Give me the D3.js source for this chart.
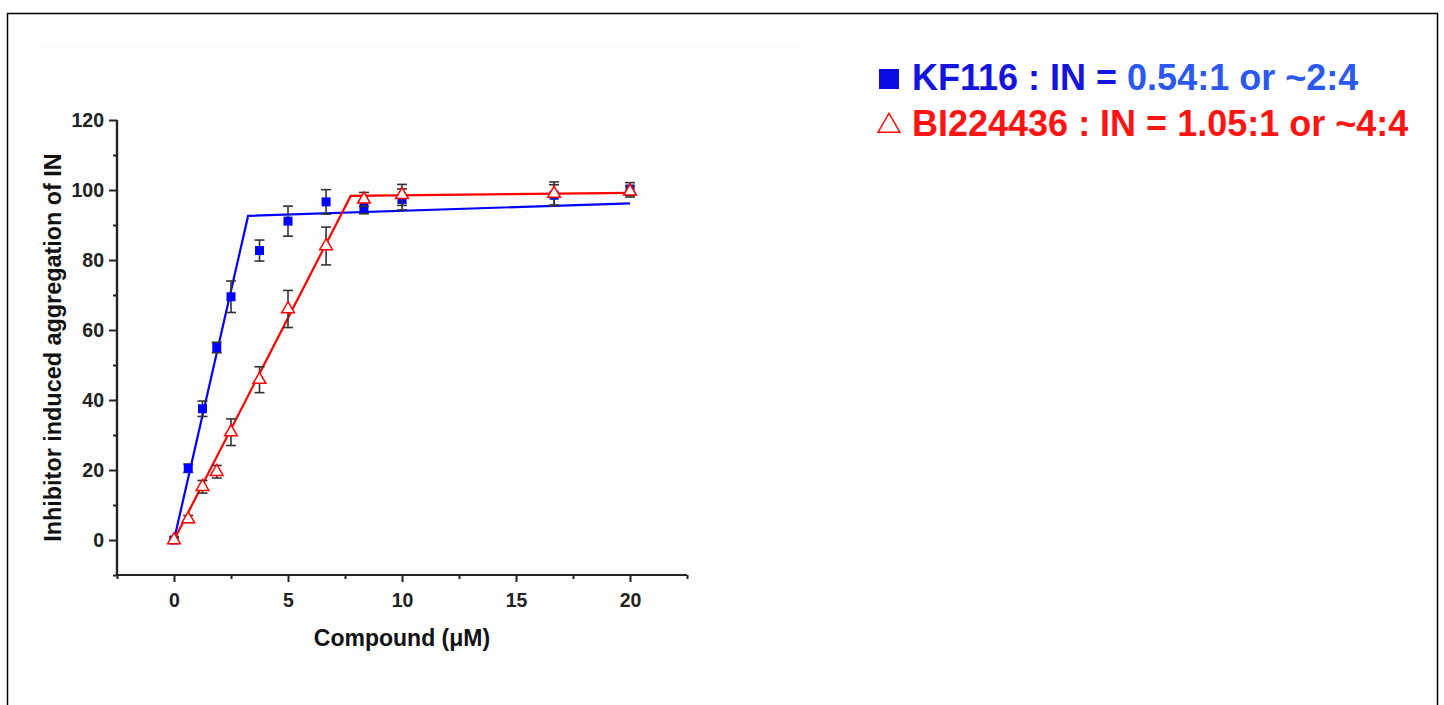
<!DOCTYPE html>
<html>
<head>
<meta charset="utf-8">
<script src="https://cdn.jsdelivr.net/npm/d3@7"></script>
<style>
  body { margin: 0; background: #fff; }
  svg text { font-family: Arial, "Liberation Sans", sans-serif; font-weight: bold; }
</style>
</head>
<body>
<div id="chart"></div>
<script>
// concentrations (uM)
const conc = [0, 0.625, 1.25, 1.875, 2.5, 3.75, 5, 6.67, 8.33, 10, 16.67, 20]

// KF116 (blue squares)
const kfValues = [0, 20.5, 37.5, 55, 69.5, 82.7, 91.1, 96.6, 95, 97.3, 98.5, 100.3]
const kfErrors = [0.8, 1.2, 2.2, 1.5, 4.5, 3, 4.3, 3.5, 1.8, 3, 3, 1.8]
// BI224436 (red open triangles)
const biValues = [0, 6, 15.2, 19.5, 30.8, 45.8, 66, 84, 97.3, 98.6, 99, 99.6]
const biErrors = [0.8, 1, 1.8, 1.8, 3.8, 3.7, 5.3, 5.4, 2, 3, 3.3, 1.6]

// two-segment fits
const kfFitX = [0, 3.25, 20]
const kfFitY = [0, 92.6, 96.2]
const biFitX = [0, 7.75, 20]
const biFitY = [0, 98.3, 99.2]

const xMajor = [0, 5, 10, 15, 20]
const xMinor = [-2.5, 2.5, 7.5, 12.5, 17.5, 22.5]
const yMajor = [0, 20, 40, 60, 80, 100, 120]
const yMinor = [-10, 10, 30, 50, 70, 90, 110]

const xTitle = 'Compound (\u03bcM)'
const yTitle = 'Inhibitor induced aggregation of IN'

const width = 1444, height = 705

const svg = d3.select('#chart')
  .append('svg')
  .attr('width', width)
  .attr('height', height)

// faint page backdrop + frame
svg.append('rect')
  .attr('x', 40).attr('y', 45).attr('width', 760).attr('height', 635)
  .attr('fill', '#fdfdfd')
svg.append('rect')
  .attr('x', 7.5).attr('y', 13.5).attr('width', 1430).attr('height', 710)
  .attr('fill', 'none').attr('stroke', '#000').attr('stroke-width', 1.5)

const x = d3.scaleLinear().domain([-2.5, 22.5]).range([117, 687])
const y = d3.scaleLinear().domain([-10, 120]).range([575, 120])

const axisColor = '#222'

// y axis
const gy = svg.append('g').attr('transform', `translate(${x(-2.5)},0)`)
gy.call(d3.axisLeft(y).tickValues(yMajor).tickSize(8).tickPadding(5))
gy.append('g').call(d3.axisLeft(y).tickValues(yMinor).tickSize(4).tickFormat(''))

// x axis
const gx = svg.append('g').attr('transform', `translate(0,${y(-10)})`)
gx.call(d3.axisBottom(x).tickValues(xMajor).tickSize(7).tickPadding(11))
gx.append('g').call(d3.axisBottom(x).tickValues(xMinor).tickSize(4).tickFormat(''))

svg.selectAll('.domain').attr('stroke', axisColor).attr('stroke-width', 2.2)
svg.selectAll('.tick line').attr('stroke', axisColor).attr('stroke-width', 2)
svg.selectAll('.tick text')
  .attr('fill', '#222')
  .style('font-size', '19.5px')
gx.selectAll('path.domain').attr('d', `M${x(-2.5)},0H${x(22.5)}`)
gy.selectAll('path.domain').attr('d', `M0,${y(-10)}V${y(120)}`)

// axis titles
svg.append('text')
  .attr('x', x(10)).attr('y', 646)
  .attr('text-anchor', 'middle')
  .style('font-size', '23px')
  .attr('fill', '#111')
  .text(xTitle)

svg.append('text')
  .attr('transform', `translate(61,${y(55)}) rotate(-90)`)
  .attr('text-anchor', 'middle')
  .style('font-size', '23.4px')
  .attr('fill', '#111')
  .text(yTitle)

// fit lines
const line = d3.line().x(d => x(d[0])).y(d => y(d[1]))

function drawSeries(vals, errs, fitX, fitY, color, symbol, filled) {
  svg.append('path')
    .datum(d3.zip(fitX, fitY))
    .attr('d', line)
    .attr('fill', 'none')
    .attr('stroke', color)
    .attr('stroke-width', 2.2)

  const pts = conc.map((c, i) => ({ c, v: vals[i], e: errs[i] }))

  const eb = svg.append('g')
    .attr('stroke', '#333')
    .attr('stroke-width', 1.6)
  eb.selectAll('line.v').data(pts).enter().append('line')
    .attr('x1', d => x(d.c)).attr('x2', d => x(d.c))
    .attr('y1', d => y(d.v - d.e)).attr('y2', d => y(d.v + d.e))
  eb.selectAll('line.top').data(pts).enter().append('line')
    .attr('x1', d => x(d.c) - 5).attr('x2', d => x(d.c) + 5)
    .attr('y1', d => y(d.v + d.e)).attr('y2', d => y(d.v + d.e))
  eb.selectAll('line.bot').data(pts).enter().append('line')
    .attr('x1', d => x(d.c) - 5).attr('x2', d => x(d.c) + 5)
    .attr('y1', d => y(d.v - d.e)).attr('y2', d => y(d.v - d.e))

  svg.append('g').selectAll('path').data(pts).enter().append('path')
    .attr('transform', d => `translate(${x(d.c)},${y(d.v)})`)
    .attr('d', symbol)
    .attr('fill', filled ? color : '#fff')
    .attr('stroke', color)
    .attr('stroke-width', filled ? 0 : 1.5)
}

const square = d3.symbol().type(d3.symbolSquare).size(81)
const triangle = d3.symbol().type(d3.symbolTriangle).size(70)

drawSeries(kfValues, kfErrors, kfFitX, kfFitY, '#0000ff', square(), true)
drawSeries(biValues, biErrors, biFitX, biFitY, '#ff0000', triangle(), false)

// legend
const legend = svg.append('g')
legend.append('path')
  .attr('transform', 'translate(889,79)')
  .attr('d', d3.symbol().type(d3.symbolSquare).size(400)())
  .attr('fill', '#0a0ae6')
legend.append('path')
  .attr('transform', 'translate(889,126)')
  .attr('d', d3.symbol().type(d3.symbolTriangle).size(210)())
  .attr('fill', 'none')
  .attr('stroke', '#ff1010')
  .attr('stroke-width', 1.5)

const l1 = legend.append('text').attr('x', 912).attr('y', 90).style('font-size', '36px')
l1.append('tspan').attr('fill', '#1414dc').text('KF116 : IN = ')
l1.append('tspan').attr('fill', '#2a58f0').text('0.54:1 or ~2:4')

legend.append('text').attr('x', 912).attr('y', 136).style('font-size', '36px')
  .attr('fill', '#ff1414')
  .text('BI224436 : IN = 1.05:1 or ~4:4')
</script>
</body>
</html>
